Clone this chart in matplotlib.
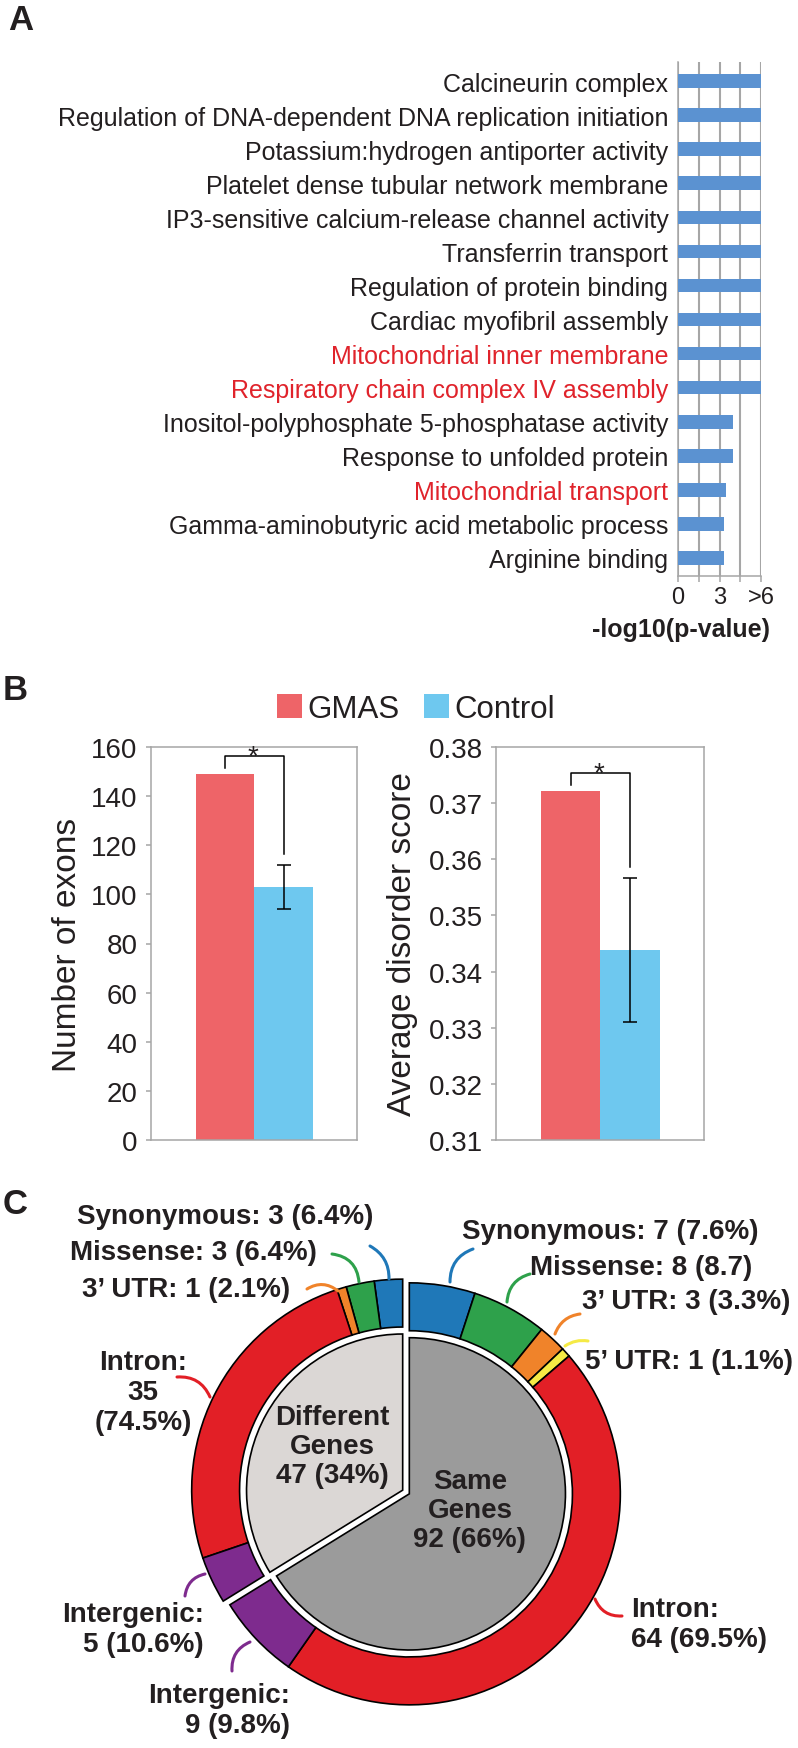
import numpy as np
import matplotlib
matplotlib.use('Agg')
import matplotlib.pyplot as plt

plt.rcParams['font.family'] = ['Liberation Sans', 'DejaVu Sans']

# ---- Panel A: GO enrichment ----
go_terms = ['Calcineurin complex',
            'Regulation of DNA-dependent DNA replication initiation',
            'Potassium:hydrogen antiporter activity',
            'Platelet dense tubular network membrane',
            'IP3-sensitive calcium-release channel activity',
            'Transferrin transport',
            'Regulation of protein binding',
            'Cardiac myofibril assembly',
            'Mitochondrial inner membrane',
            'Respiratory chain complex IV assembly',
            'Inositol-polyphosphate 5-phosphatase activity',
            'Response to unfolded protein',
            'Mitochondrial transport',
            'Gamma-aminobutyric acid metabolic process',
            'Arginine binding']
go_values = [6, 6, 6, 6, 6, 6, 6, 6, 6, 6, 4.0, 4.0, 3.5, 3.3, 3.3]  # capped at >6
go_red = ['Mitochondrial inner membrane', 'Respiratory chain complex IV assembly',
          'Mitochondrial transport']
go_ticks = [0, 1.5, 3, 4.5, 6]
go_ticklabels = ['0', '', '3', '', '>6']

# ---- Panel B ----
groups = ['GMAS', 'Control']
exon_counts = [149, 103]
exon_err = [0, 9]
disorder = [0.3722, 0.3439]
disorder_err = [0, 0.0128]

# ---- Panel C ----
inner_counts = [92, 47]
inner_labels = ['Same\nGenes\n92 (66%)', 'Different\nGenes\n47 (34%)']
same_types = ['Synonymous', 'Missense', '3UTR', '5UTR', 'Intron', 'Intergenic']
same_counts = [7, 8, 3, 1, 64, 9]
same_labels = ['Synonymous: 7 (7.6%)', 'Missense: 8 (8.7)', '3\u2019 UTR: 3 (3.3%)',
               '5\u2019 UTR: 1 (1.1%)', 'Intron:\n64 (69.5%)', 'Intergenic:\n9 (9.8%)']
diff_types = ['Synonymous', 'Missense', '3UTR', 'Intron', 'Intergenic']
diff_counts = [3, 3, 1, 35, 5]
diff_labels = ['Synonymous: 3 (6.4%)', 'Missense: 3 (6.4%)', '3\u2019 UTR: 1 (2.1%)',
               'Intron:\n35\n(74.5%)', 'Intergenic:\n5 (10.6%)']

type_colors = {'Synonymous': '#1f78b8', 'Missense': '#2ea14b', '3UTR': '#f0832a',
               '5UTR': '#f5ea45', 'Intron': '#e21f26', 'Intergenic': '#7e2b8e'}

W, H = 798, 1749
fig = plt.figure(figsize=(W / 100, H / 100), dpi=100)
txt = '#231f20'
grey = '#a6a6a6'


def box(x0, y0, x1, y1):
    # pixel box (top-left origin) -> figure fraction rect
    return [x0 / W, 1 - y1 / H, (x1 - x0) / W, (y1 - y0) / H]


# ================= Panel A =================
axA = fig.add_axes(box(678, 63, 761, 577))
yy = np.arange(len(go_terms))
axA.barh(yy, go_values, height=0.4, color='#5b92d1', zorder=3)
axA.set_xlim(0, 6)
axA.set_ylim(14.53, -0.56)
axA.set_xticks(go_ticks)
axA.set_xticklabels(go_ticklabels, fontsize=17, color=txt)
axA.xaxis.grid(True, color=grey, lw=1.5, zorder=0)
axA.set_yticks(yy)
axA.set_yticklabels(go_terms, fontsize=18)
for lab in axA.get_yticklabels():
    lab.set_color('#e0232b' if lab.get_text() in go_red else txt)
axA.tick_params(axis='y', length=0, pad=7)
axA.tick_params(axis='x', length=4.5, width=1.1, color=grey, pad=3)
for s in ['top', 'right']:
    axA.spines[s].set_visible(False)
for s in ['left', 'bottom']:
    axA.spines[s].set_color(grey)
    axA.spines[s].set_linewidth(1.1)
fig.text(681 / W, 1 - 630 / H, '-log10(p-value)', fontsize=18, fontweight='bold',
         ha='center', va='center', color=txt)
fig.text(8 / W, 1 - 21 / H, 'A', fontsize=25, fontweight='bold', ha='left', va='center', color=txt)

# ================= Panel B =================
bar_cols = ['#ee6468', '#6ec8ef']
fig.text(3 / W, 1 - 690 / H, 'B', fontsize=25, fontweight='bold', ha='left', va='center', color=txt)


def bar_panel(rect, vals, errs, ylim, yticks, fmt, ylabel, ylab_x):
    ax = fig.add_axes(box(*rect))
    xs = np.arange(len(vals))
    bars = ax.bar(xs, vals, width=1.0, color=bar_cols, zorder=2)
    ax.errorbar(xs[1], vals[1], yerr=errs[1], fmt='none', ecolor='black',
                elinewidth=1.1, capsize=5, capthick=1.1, zorder=3)
    ax.set_xlim(-1.26, 2.25)
    ax.set_ylim(*ylim)
    ax.set_yticks(yticks)
    ax.set_yticklabels([fmt(t) for t in yticks], fontsize=20, color=txt)
    ax.set_xticks([])
    ax.tick_params(axis='y', length=3.6, width=1.1, color=grey, pad=6)
    for s in ax.spines.values():
        s.set_color(grey)
        s.set_linewidth(1.1)
    rng = ylim[1] - ylim[0]
    top = vals[0] + 0.045 * rng
    ax.plot([0, 0, 1, 1], [vals[0] + 0.015 * rng, top, top, vals[1] + errs[1] + 0.028 * rng],
            color='black', lw=1.1, zorder=4)
    ax.text(0.47, top, '*', fontsize=20, ha='center', va='center', color=txt)
    fig.text(ylab_x / W, 1 - (rect[1] + rect[3]) / 2 / H, ylabel, rotation=90,
             fontsize=24, ha='center', va='center', color=txt)
    return ax, bars


axB1, bars1 = bar_panel((151, 748, 357, 1141), exon_counts, exon_err, (0, 160),
                        list(range(0, 161, 20)), lambda t: '%d' % t, 'Number of exons', 67)
axB2, bars2 = bar_panel((496, 748, 704, 1141), disorder, disorder_err, (0.31, 0.38),
                        list(np.round(np.arange(0.31, 0.3801, 0.01), 2)),
                        lambda t: '%.2f' % t, 'Average disorder score', 403)
fig.legend(bars1, groups, loc='center', bbox_to_anchor=(416 / W, 1 - 710 / H), ncol=2,
           frameon=False, fontsize=22.5, handlelength=0.8, handleheight=0.8,
           handletextpad=0.15, columnspacing=0.8, borderpad=0, labelcolor=txt)

# ================= Panel C =================
fig.text(3 / W, 1 - 1205 / H, 'C', fontsize=25, fontweight='bold', ha='left', va='center', color=txt)
R = 211.0
cx, cy = 406, 1493
axC = fig.add_axes(box(0, 1180, W, H))
axC.set_xlim(-cx / R, (W - cx) / R)
axC.set_ylim(-(H - cy) / R, (cy - 1180) / R)
axC.axis('off')

total = sum(inner_counts)
shift = 0.018
ang = np.deg2rad(90 + 180 * inner_counts[1] / total)
c_diff = (shift * np.cos(ang), shift * np.sin(ang))
c_same = (-c_diff[0], -c_diff[1])
edge = dict(edgecolor='black', linewidth=1.2)
r_in = 0.74
ring_w = 1 - 0.773

axC.pie([c / total for c in same_counts], colors=[type_colors[t] for t in same_types],
        startangle=90, counterclock=False, normalize=False, radius=1, center=c_same,
        wedgeprops=dict(width=ring_w, **edge), frame=False)
axC.pie([c / total for c in diff_counts], colors=[type_colors[t] for t in diff_types],
        startangle=90, counterclock=True, normalize=False, radius=1, center=c_diff,
        wedgeprops=dict(width=ring_w, **edge), frame=False)
axC.pie([inner_counts[0] / total], colors=['#9b9b9b'], startangle=90, counterclock=False,
        normalize=False, radius=r_in, center=c_same, wedgeprops=edge, frame=False)
axC.pie([inner_counts[1] / total], colors=['#dbd7d5'], startangle=90, counterclock=True,
        normalize=False, radius=r_in, center=c_diff, wedgeprops=edge, frame=False)
axC.set_xlim(-cx / R, (W - cx) / R)
axC.set_ylim(-(H - cy) / R, (cy - 1180) / R)
axC.set_aspect('auto')

# inner labels
axC.text(-0.351, 0.218, inner_labels[1], fontsize=20, fontweight='bold', ha='center',
         va='center', color=txt, linespacing=1.15)
axC.text(0.303, -0.085, inner_labels[0], fontsize=20, fontweight='bold', ha='center',
         va='center', color=txt, linespacing=1.15)


def px(x, y):
    return ((x - cx) / R, (cy - y) / R)


# label anchor (px), alignment, connector start/end (px), curvature
same_layout = [
    ((462, 1232), 'left', 'left', (450, 1283), (473, 1250), -0.35),
    ((530, 1268), 'left', 'left', (507, 1303), (530, 1275), -0.35),
    ((582, 1302), 'left', 'left', (555, 1335), (580, 1315), -0.3),
    ((585, 1362), 'left', 'left', (565, 1347), (588, 1342), -0.2),
    ((631, 1625), 'left', 'left', (595, 1600), (622, 1617), 0.35),
    ((290, 1711), 'right', 'right', (250, 1643), (232, 1672), 0.35),
]
diff_layout = [
    ((373, 1217), 'right', 'right', (389, 1280), (370, 1247), 0.3),
    ((317, 1253), 'right', 'right', (359, 1283), (332, 1255), 0.4),
    ((290, 1290), 'right', 'right', (338, 1292), (307, 1290), 0.35),
    ((143, 1393), 'center', 'center', (210, 1398), (177, 1378), 0.35),
    ((204, 1630), 'right', 'right', (205, 1575), (185, 1597), 0.35),
]

for labels, types, layout in [(same_labels, same_types, same_layout),
                              (diff_labels, diff_types, diff_layout)]:
    for lab, t, (pos, ha, ma, p0, p1, rad) in zip(labels, types, layout):
        axC.text(*px(*pos), lab, fontsize=20, fontweight='bold', ha=ha, va='center',
                 multialignment=ma, color=txt, linespacing=1.2)
        axC.annotate('', xy=px(*p1), xytext=px(*p0),
                     arrowprops=dict(arrowstyle='-', color=type_colors[t], lw=2.2,
                                     shrinkA=0, shrinkB=0,
                                     connectionstyle='arc3,rad=%s' % rad))

fig.savefig('out.png', dpi=100)
